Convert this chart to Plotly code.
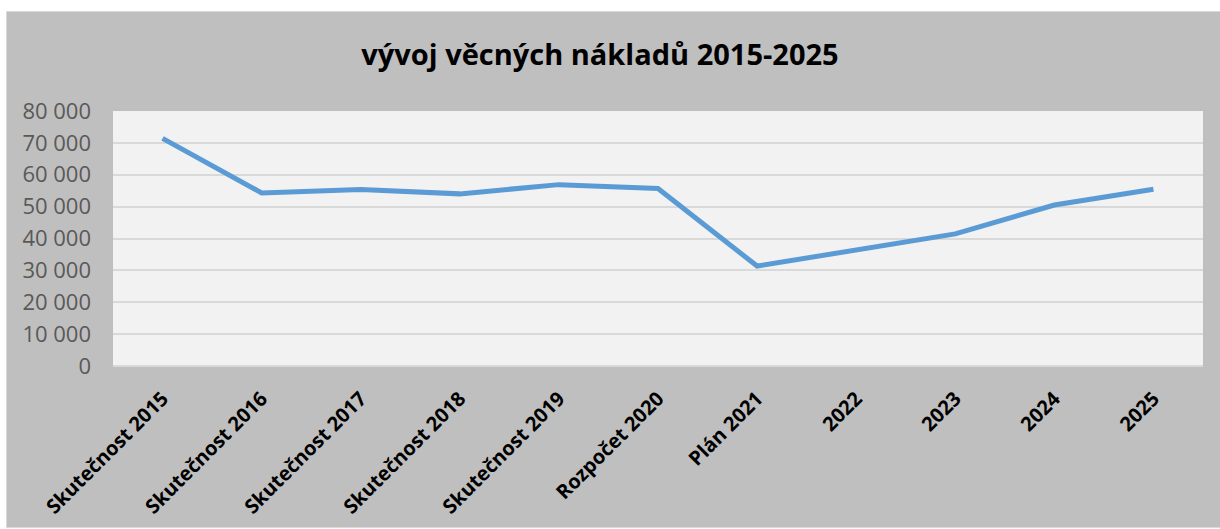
"""vývoj věcných nákladů 2015-2025 - čárový graf."""

import plotly.graph_objects as go

CATEGORIES = [
    "Skutečnost 2015",
    "Skutečnost 2016",
    "Skutečnost 2017",
    "Skutečnost 2018",
    "Skutečnost 2019",
    "Rozpočet 2020",
    "Plán 2021",
    "2022",
    "2023",
    "2024",
    "2025",
]
NAKLADY = [71400, 54300, 55400, 54000, 56900, 55700, 31350, 36400, 41450, 50500, 55450]
Y_TICKS = [0, 10000, 20000, 30000, 40000, 50000, 60000, 70000, 80000]

FONT = "Open Sans"
W, H = 1220, 529
M_L, M_R, M_T, M_B = 113, 17, 111, 163


def _px_x(px: float) -> float:
    """pixel -> paper x"""
    return (px - M_L) / (W - M_L - M_R)


def _px_y(py: float) -> float:
    """pixel -> paper y"""
    return (H - M_B - py) / (H - M_T - M_B)


fig = go.Figure(
    go.Scatter(
        x=CATEGORIES,
        y=NAKLADY,
        mode="lines",
        line=dict(color="#5B9BD5", width=5),
        hovertemplate="%{x}: %{y:,.0f}<extra></extra>",
    )
)

# šedé pozadí grafu + plocha grafu
fig.add_shape(
    type="rect", xref="paper", yref="paper", layer="below",
    x0=_px_x(6.5), x1=_px_x(1221), y0=_px_y(527.5), y1=_px_y(11.5),
    fillcolor="#BFBFBF", line=dict(color="#D9D9D9", width=1),
)
fig.add_shape(
    type="rect", xref="paper", yref="paper", layer="below",
    x0=0, x1=1, y0=0, y1=1,
    fillcolor="#F2F2F2", line=dict(width=0),
)

fig.update_layout(
    width=W,
    height=H,
    margin=dict(l=M_L, r=M_R, t=M_T, b=M_B, autoexpand=False),
    paper_bgcolor="white",
    plot_bgcolor="rgba(0,0,0,0)",
    separators=", ",
    showlegend=False,
    font=dict(family=FONT),
    title=dict(
        text="vývoj věcných nákladů 2015-2025",
        font=dict(family=FONT, size=29, color="black", weight="bold"),
        xref="container", x=600 / W, xanchor="center",
        yref="container", y=1 - 55 / H, yanchor="middle",
    ),
    xaxis=dict(
        range=[-0.5, len(CATEGORIES) - 0.5],
        tickangle=-45,
        tickfont=dict(family=FONT, size=20, color="black", weight="bold"),
        showgrid=False,
        showline=False,
        ticks="",
        ticklabelstandoff=16,
        automargin=False,
        fixedrange=True,
    ),
    yaxis=dict(
        range=[0, 80000],
        tickvals=Y_TICKS,
        tickformat=",d",
        tickfont=dict(family=FONT, size=22, color="#595959"),
        gridcolor="#D9D9D9",
        gridwidth=2,
        zeroline=True,
        zerolinecolor="#D9D9D9",
        zerolinewidth=2,
        showline=False,
        ticks="",
        ticklabelstandoff=21,
        automargin=False,
        fixedrange=True,
    ),
)

fig.write_html(
    "out.html",
    config={"displayModeBar": False},
    post_script="document.body.style.margin='0';",
)
